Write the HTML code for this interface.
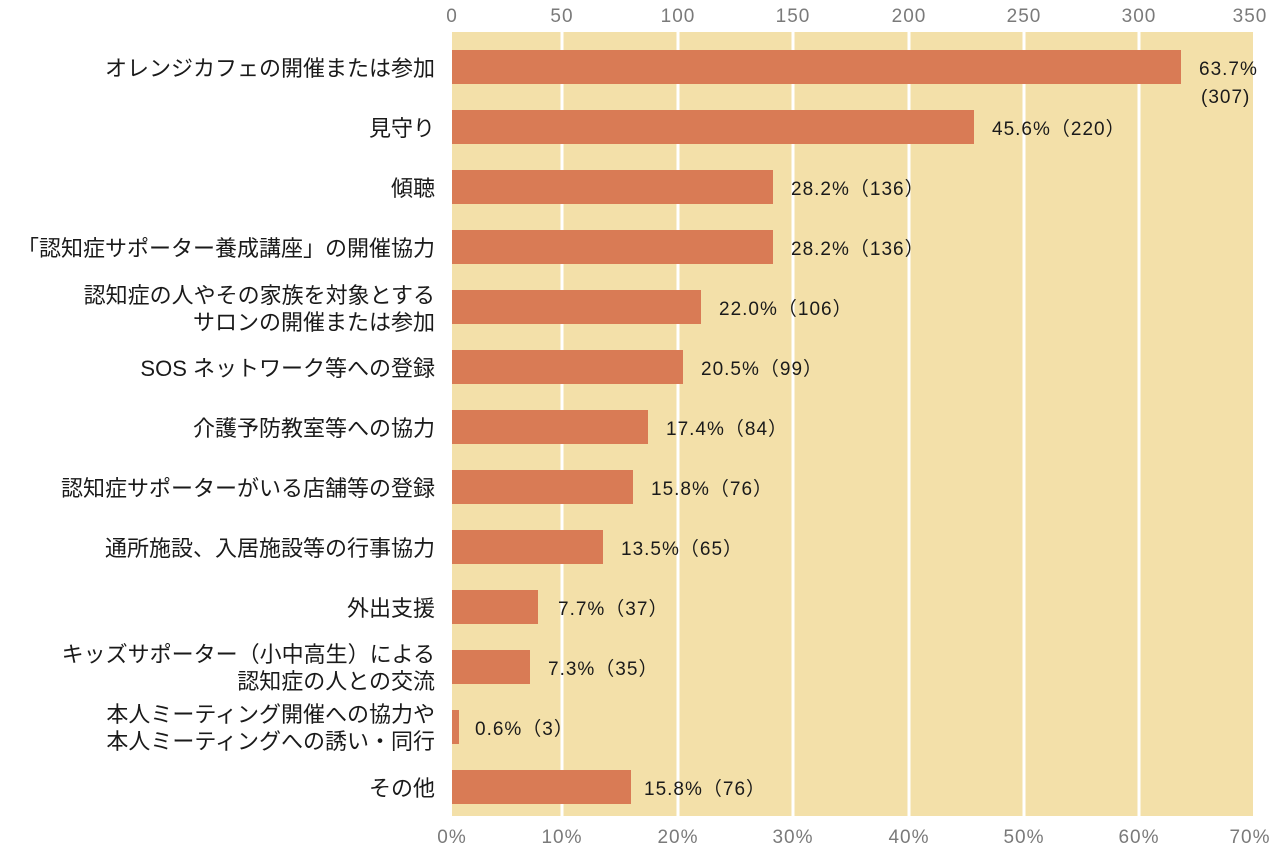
<!DOCTYPE html>
<html><head><meta charset="utf-8"><style>
html,body{margin:0;padding:0;background:#fff;}
text{font-family:"Liberation Sans","Noto Sans CJK JP",sans-serif;}
</style></head><body>
<svg width="1280" height="849" xmlns="http://www.w3.org/2000/svg">
<rect x="452" y="32" width="801" height="784" fill="#f3e0a9"/>
<g stroke="#fff" stroke-width="3">
<line x1="562" y1="32" x2="562" y2="816"/>
<line x1="678" y1="32" x2="678" y2="816"/>
<line x1="793" y1="32" x2="793" y2="816"/>
<line x1="909" y1="32" x2="909" y2="816"/>
<line x1="1024" y1="32" x2="1024" y2="816"/>
<line x1="1139" y1="32" x2="1139" y2="816"/>
</g>
<g fill="#7a7a7a" font-size="19" text-anchor="middle" letter-spacing="1">
<text x="452" y="22">0</text><text x="562" y="22">50</text><text x="678" y="22">100</text><text x="793" y="22">150</text><text x="909" y="22">200</text><text x="1024" y="22">250</text><text x="1139" y="22">300</text><text x="1250" y="22">350</text>
<text x="452" y="843">0%</text><text x="562" y="843">10%</text><text x="678" y="843">20%</text><text x="793" y="843">30%</text><text x="909" y="843">40%</text><text x="1024" y="843">50%</text><text x="1139" y="843">60%</text><text x="1250" y="843">70%</text>
</g>
<g fill="#d97b55">
<rect x="452" y="50" width="729" height="34"/>
<rect x="452" y="110" width="522" height="34"/>
<rect x="452" y="170" width="321" height="34"/>
<rect x="452" y="230" width="321" height="34"/>
<rect x="452" y="290" width="249" height="34"/>
<rect x="452" y="350" width="231" height="34"/>
<rect x="452" y="410" width="196" height="34"/>
<rect x="452" y="470" width="181" height="34"/>
<rect x="452" y="530" width="151" height="34"/>
<rect x="452" y="590" width="86" height="34"/>
<rect x="452" y="650" width="78" height="34"/>
<rect x="452" y="710" width="7" height="34"/>
<rect x="452" y="770" width="179" height="34"/>
</g>
<g fill="#1a1a1a" font-size="19" letter-spacing="1">
<text x="1199" y="75">63.7%</text><text x="1201" y="103">(307)</text>
<text x="992" y="135">45.6%（220）</text>
<text x="791" y="195">28.2%（136）</text>
<text x="791" y="255">28.2%（136）</text>
<text x="719" y="315">22.0%（106）</text>
<text x="701" y="375">20.5%（99）</text>
<text x="666" y="435">17.4%（84）</text>
<text x="651" y="495">15.8%（76）</text>
<text x="621" y="555">13.5%（65）</text>
<text x="558" y="615">7.7%（37）</text>
<text x="548" y="675">7.3%（35）</text>
<text x="475" y="735">0.6%（3）</text>
<text x="644" y="795">15.8%（76）</text>
</g>
<g fill="#1a1a1a" font-size="22" text-anchor="end">
<text x="435" y="76">オレンジカフェの開催または参加</text>
<text x="435" y="136">見守り</text>
<text x="435" y="196">傾聴</text>
<text x="435" y="256">「認知症サポーター養成講座」の開催協力</text>
<text x="435" y="303">認知症の人やその家族を対象とする</text>
<text x="435" y="330">サロンの開催または参加</text>
<text x="435" y="376">SOS ネットワーク等への登録</text>
<text x="435" y="436">介護予防教室等への協力</text>
<text x="435" y="496">認知症サポーターがいる店舗等の登録</text>
<text x="435" y="556">通所施設、入居施設等の行事協力</text>
<text x="435" y="616">外出支援</text>
<text x="435" y="662">キッズサポーター（小中高生）による</text>
<text x="435" y="689">認知症の人との交流</text>
<text x="435" y="722">本人ミーティング開催への協力や</text>
<text x="435" y="749">本人ミーティングへの誘い・同行</text>
<text x="435" y="796">その他</text>
</g>
</svg>
</body></html>
